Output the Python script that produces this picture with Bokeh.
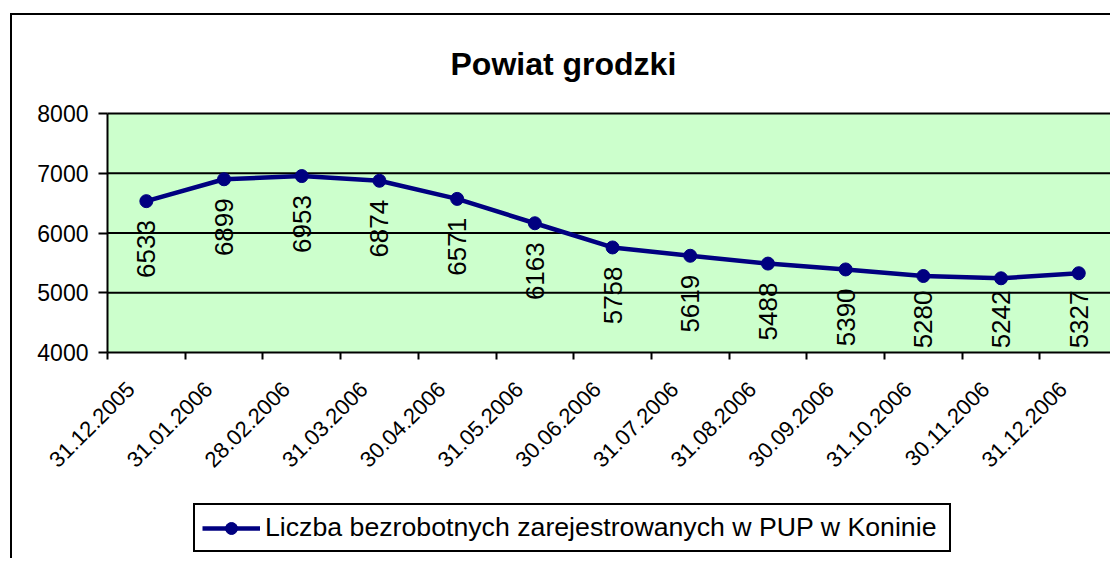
import math
from bokeh.plotting import figure
from bokeh.models import (Range1d, FixedTicker, Legend, LegendItem, ColumnDataSource,
                          BoxAnnotation)
from bokeh.core.properties import value
from bokeh.embed import file_html
from bokeh.resources import INLINE

dates = ["31.12.2005", "31.01.2006", "28.02.2006", "31.03.2006", "30.04.2006",
         "31.05.2006", "30.06.2006", "31.07.2006", "31.08.2006", "30.09.2006",
         "31.10.2006", "30.11.2006", "31.12.2006"]
values = [6533, 6899, 6953, 6874, 6571, 6163, 5758, 5619, 5488, 5390, 5280, 5242, 5327]
y_ticks = [4000, 5000, 6000, 7000, 8000]
series_name = "Liczba bezrobotnych zarejestrowanych w PUP w Koninie"

FONT = "Liberation Sans"
NAVY = "#000080"
GREEN = "#CCFFCC"

# geometry (pixels)
W, H = 1100, 545
BAND_TOP = 98                     # pixel position of the 8000 line in the canvas
HEAD = 20                         # frame continues this far above the 8000 line
TOP = BAND_TOP - HEAD
AXIS_X = 95                       # pixel position of the value axis in the canvas
CAT_PX = 77.7                     # width of one category
PLOT_H = 239                      # height of the 4000..8000 band
Y0, Y1 = y_ticks[0], y_ticks[-1]
px_per_unit = PLOT_H / (Y1 - Y0)
below_px = H - BAND_TOP - PLOT_H  # frame continues below the value axis
y_start = Y0 - below_px / px_per_unit
y_end = Y1 + HEAD / px_per_unit
x_start = -AXIS_X / CAT_PX
x_end = x_start + W / CAT_PX

n = len(dates)
centers = [i + 0.5 for i in range(n)]
label_pos = [round(i + 0.3, 2) for i in range(n)]
bounds = list(range(n + 1))

# data-label offsets: 19px below the point, but kept inside the value band
offs = [min(19, (v - Y0) * px_per_unit - 62) for v in values]

src = ColumnDataSource(dict(x=centers, y=values, lbl=[str(v) for v in values], off=offs))

p = figure(width=W, height=H, output_backend="svg", toolbar_location=None,
           x_range=Range1d(x_start, x_end), y_range=Range1d(y_start, y_end),
           min_border_left=0, min_border_top=TOP, min_border_bottom=0,
           min_border_right=0,
           styles={"margin-left": "10px", "margin-top": "13px",
                   "border-left": "2px solid black", "border-top": "2px solid black"})

p.background_fill_color = "white"
p.border_fill_color = "white"
p.outline_line_color = None

p.add_layout(BoxAnnotation(bottom=Y0, top=Y1, left=0, fill_color=GREEN, fill_alpha=1,
                           line_color=None, level="underlay"))

# horizontal grid lines, only across the plot area
grid_y = y_ticks[1:]
p.segment(x0=[0] * len(grid_y), x1=[x_end] * len(grid_y), y0=grid_y, y1=grid_y,
          line_color="black", line_width=2)

# title
p.title.text = "Powiat grodzki"
p.title.align = "left"
p.title.offset = 438
p.title.text_font = FONT
p.title.text_font_size = "32px"
p.title.text_font_style = "bold"
p.title.text_color = "black"
p.title.standoff = 23

# y axis (sits at the left edge of the plot area)
p.yaxis.fixed_location = 0
p.yaxis.ticker = FixedTicker(ticks=y_ticks)
p.yaxis.bounds = (Y0, Y1)
p.yaxis.axis_line_color = "black"
p.yaxis.axis_line_width = 2
p.yaxis.major_tick_line_width = 2
p.yaxis.major_tick_out = 9
p.yaxis.major_tick_in = 0
p.yaxis.minor_tick_line_color = None
p.yaxis.major_label_text_font = FONT
p.yaxis.major_label_text_font_size = "23px"
p.yaxis.major_label_text_color = "black"
p.yaxis.major_label_standoff = 10

# x axis (sits on the 4000 line)
p.xaxis.fixed_location = Y0
p.xaxis.bounds = (0, x_end)
p.xaxis.ticker = FixedTicker(ticks=label_pos, minor_ticks=bounds)
p.xaxis.major_label_overrides = {c: d for c, d in zip(label_pos, dates)}
p.xaxis.major_tick_line_color = None
p.xaxis.minor_tick_line_color = "black"
p.xaxis.minor_tick_line_width = 2
p.xaxis.minor_tick_out = 7
p.xaxis.minor_tick_in = 0
p.xaxis.axis_line_color = "black"
p.xaxis.axis_line_width = 2
p.xaxis.major_label_orientation = math.pi / 4
p.xaxis.major_label_text_font = FONT
p.xaxis.major_label_text_font_size = "22px"
p.xaxis.major_label_text_color = "black"
p.xaxis.major_label_standoff = 26

# grid objects replaced by the segments above
p.xgrid.grid_line_color = None
p.ygrid.grid_line_color = None

line_r = p.line("x", "y", source=src, line_color=NAVY, line_width=4.5)
pt_r = p.scatter("x", "y", source=src, size=13, fill_color=NAVY, line_color=NAVY)

p.text("x", "y", text="lbl", source=src, angle=math.pi / 2,
       text_align="right", text_baseline="middle", y_offset="off",
       text_font=value(FONT), text_font_size="26px", text_color="black")

legend = Legend(items=[LegendItem(label=series_name, renderers=[line_r, pt_r])],
                location=(AXIS_X + 86, 8), orientation="horizontal",
                border_line_color="black", border_line_width=2, border_line_alpha=1,
                background_fill_color="white", background_fill_alpha=1,
                padding=7, margin=0, glyph_width=58, glyph_height=30,
                label_standoff=5, label_width=677, label_text_font=FONT,
                label_text_font_size="26.7px", label_text_color="black")
p.add_layout(legend, "center")

open("out.html", "w").write(file_html(p, INLINE))
